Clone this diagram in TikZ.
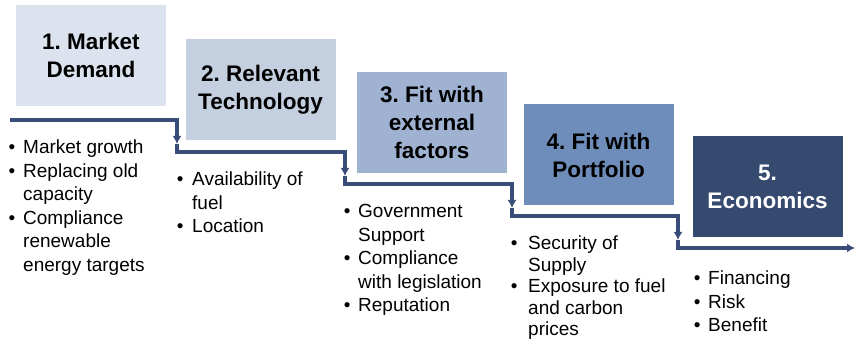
\documentclass[tikz,border=0pt]{standalone}
\usepackage{fontspec}
\setmainfont{Liberation Sans}
\usetikzlibrary{arrows.meta}
\definecolor{cA}{HTML}{DCE3EE}
\definecolor{cB}{HTML}{C4CFE0}
\definecolor{cC}{HTML}{9FB2D2}
\definecolor{cD}{HTML}{6E8DBB}
\definecolor{cE}{HTML}{364A70}
\definecolor{lineC}{HTML}{3A4D78}
\newlength\bw
\newcommand\bul{\makebox[\bw][l]{•}}
\newcommand\ind{\hspace*{\bw}}
\frenchspacing
\begin{document}
\begin{tikzpicture}[x=1pt,y=-1pt,
  stepbox/.style={draw=none,minimum width=150pt,minimum height=101pt,inner sep=0pt,
    align=center,font=\fontsize{22.5}{28}\selectfont\bfseries},
  lst/.style={anchor=base west,inner sep=0pt,font=\fontsize{19}{23.5}\selectfont},
  flow/.style={draw=lineC,line width=3.2pt},
  tip/.style={-{Latex[length=8pt,width=9pt]}}]
\useasboundingbox (0,0) rectangle (856,344);
% boxes
\node[stepbox,fill=cA] (b1) at (91,55.5) {1. Market\\Demand};
\node[stepbox,fill=cB] (b2) at (260.5,89.5) {2. Relevant\\Technology};
\node[stepbox,fill=cC] (b3) at (432,122.5) {3. Fit with\\external\\factors};
\node[stepbox,fill=cD] (b4) at (598.5,155) {4. Fit with\\Portfolio};
\node[stepbox,fill=cE,text=white] (b5) at (767.5,186.5) {5.\\Economics};
% staircase
\coordinate (s0) at (10,120);
\coordinate (c1) at (177,120);
\coordinate (t1) at (177,144);
\coordinate (d1) at (177,152);
\coordinate (c2) at (345,152);
\coordinate (t2) at (345,176);
\coordinate (d2) at (345,184);
\coordinate (c3) at (512,184);
\coordinate (t3) at (512,208);
\coordinate (d3) at (512,216);
\coordinate (c4) at (678,216);
\coordinate (t4) at (678,240);
\coordinate (d4) at (678,248);
\coordinate (e) at (855,248);
\draw[flow,tip] (s0) -- (c1) -- (t1);
\draw[flow,tip] (t1) -- (d1) -- (c2) -- (t2);
\draw[flow,tip] (t2) -- (d2) -- (c3) -- (t3);
\draw[flow,tip] (t3) -- (d3) -- (c4) -- (t4);
\draw[flow,tip] (t4) -- (d4) -- (e);
% lists
\node[lst] (l1) at (8.4,154) {\setlength\bw{14.6pt}\vtop{\baselineskip=23.5pt
  \hbox{\bul Market growth}\hbox{\bul Replacing old}\hbox{\ind capacity}
  \hbox{\bul Compliance}\hbox{\ind renewable}\hbox{\ind energy targets}}};
\node[lst] (l2) at (176.7,186) {\setlength\bw{15.3pt}\vtop{\baselineskip=23.5pt
  \hbox{\bul Availability of}\hbox{\ind fuel}\hbox{\bul Location}}};
\node[lst] (l3) at (343.7,218) {\setlength\bw{14.3pt}\vtop{\baselineskip=23.5pt
  \hbox{\bul Government}\hbox{\ind Support}\hbox{\bul Compliance}
  \hbox{\ind with legislation}\hbox{\bul Reputation}}};
\node[lst] (l4) at (510.7,250) {\setlength\bw{17.3pt}\vtop{\baselineskip=21.5pt
  \hbox{\bul Security of}\hbox{\ind Supply}\hbox{\bul Exposure to fuel}
  \hbox{\ind and carbon}\hbox{\ind prices}}};
\node[lst] (l5) at (693.7,285) {\setlength\bw{14.3pt}\vtop{\baselineskip=23.5pt
  \hbox{\bul Financing}\hbox{\bul Risk}\hbox{\bul Benefit}}};
\end{tikzpicture}
\end{document}
